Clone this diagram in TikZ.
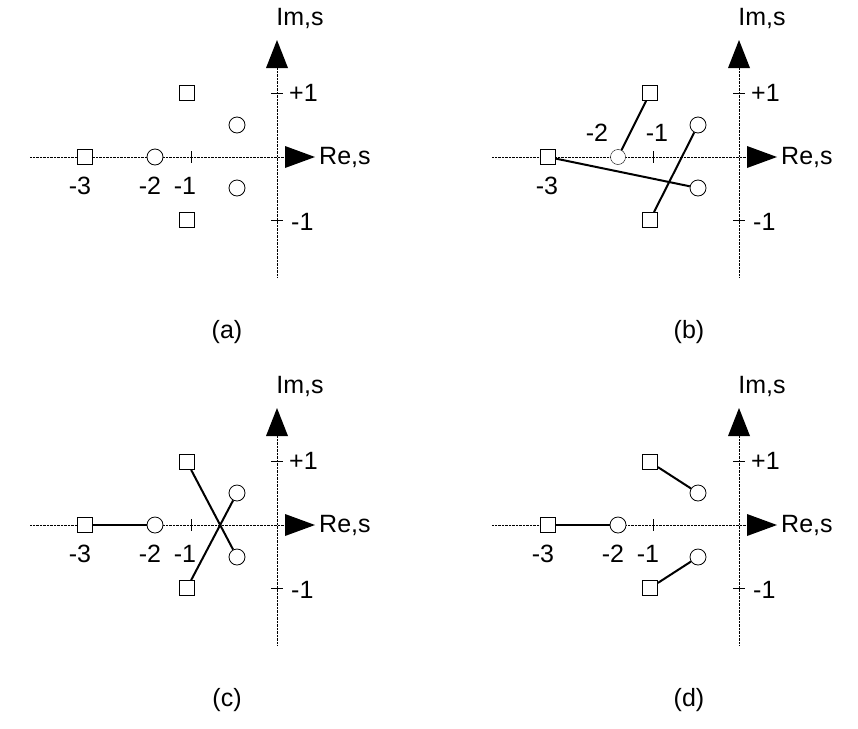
\documentclass[tikz,border=0pt]{standalone}
\usepackage{fontspec}
\setmainfont{Liberation Sans}
\begin{document}
\begin{tikzpicture}[x=1pt,y=-1pt,
  sq/.style={draw,thick,minimum size=15pt,inner sep=0,fill=white},
  ci/.style={draw,thick,circle,minimum size=16pt,inner sep=0,fill=white},
  lab/.style={font=\fontsize{25}{28}\selectfont,inner sep=1pt},
  ax/.style={densely dotted,thin},
  lk/.style={line width=2pt}]
\useasboundingbox (0,0) rectangle (858,728);
\newcommand{\axes}[3]{%
 \begin{scope}[shift={(#1,#2)}]
  \draw[ax] (30,157) -- (285,157);
  \draw[ax] (277,68) -- (277,277);
  \fill (285,146) -- (315,157) -- (285,168) -- cycle;
  \fill (266,68) -- (277,40) -- (288,68) -- cycle;
  \draw (271,93) -- (283,93) (271,220) -- (283,220);
  \node[lab,anchor=west] at (288,93) {+1};
  \node[lab,anchor=west] at (290,222) {-1};
  \node[lab,anchor=west] at (318,157) {Re,s};
  \node[lab] at (300,18) {Im,s};
  \node[lab] at (227,332) {(#3)};
 \end{scope}}
% (a)
\axes{0}{0}{a}
\draw (191,151) -- (191,163);
\node[sq] (a1) at (85,157) {};
\node[ci] (a2) at (155,157) {};
\node[sq] (a3) at (187,93) {};
\node[sq] (a4) at (187,220) {};
\node[ci] (a5) at (237,125) {};
\node[ci] (a6) at (237,188) {};
\node[lab] at (80,186) {-3};
\node[lab] at (150,186) {-2};
\node[lab] at (185,186) {-1};
% (b)
\axes{462}{0}{b}
\draw (653,151) -- (653,163);
\node[lab] at (547,186) {-3};
\node[lab] at (597,133) {-2};
\node[lab] at (657,133) {-1};
\node[sq] (b1) at (548,157) {};
\node[sq] (b3) at (650,93) {};
\node[sq] (b4) at (650,220) {};
\node[ci] (b5) at (698,125) {};
\node[ci] (b6) at (698,188) {};
\node[ci,thin,minimum size=15pt] (b2) at (618,157) {};
\draw[lk] (b1) -- (b6);
\draw[lk] (b4) -- (b5);
\draw[lk] (b3) -- (b2);
\node[sq] at (548,157) {};
% (c)
\axes{0}{368}{c}
\draw (191,519) -- (191,531);
\node[sq] (c1) at (85,525) {};
\node[ci] (c2) at (155,525) {};
\node[sq] (c3) at (187,462) {};
\node[sq] (c4) at (187,588) {};
\node[ci] (c5) at (237,493) {};
\node[ci] (c6) at (237,557) {};
\draw[lk] (c1) -- (c2);
\draw[lk] (c3) -- (c6);
\draw[lk] (c4) -- (c5);
\node[lab] at (80,554) {-3};
\node[lab] at (150,554) {-2};
\node[lab] at (185,554) {-1};
% (d)
\axes{462}{368}{d}
\draw (653,519) -- (653,531);
\node[sq] (d1) at (548,525) {};
\node[ci] (d2) at (618,525) {};
\node[sq] (d3) at (650,462) {};
\node[sq] (d4) at (650,588) {};
\node[ci] (d5) at (698,493) {};
\node[ci] (d6) at (698,557) {};
\draw[lk] (d1) -- (d2);
\draw[lk] (d3) -- (d5);
\draw[lk] (d4) -- (d6);
\node[lab] at (543,554) {-3};
\node[lab] at (613,554) {-2};
\node[lab] at (648,554) {-1};
\end{tikzpicture}
\end{document}
